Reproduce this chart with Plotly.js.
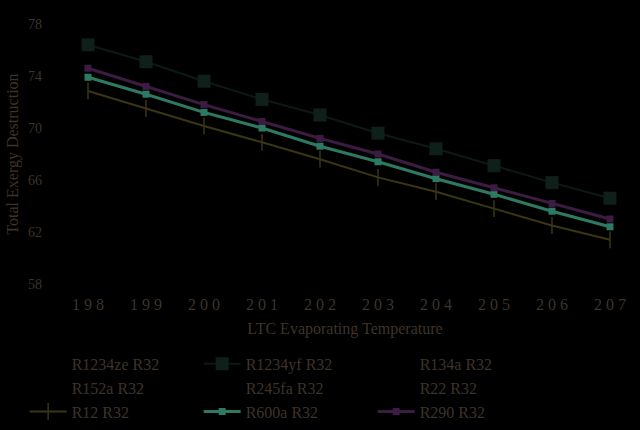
<!DOCTYPE html>
<html>
<head>
<meta charset="utf-8">
<script src="https://cdn.plot.ly/plotly-3.0.1.min.js"></script>
<style>
  html, body { margin: 0; padding: 0; background: #000; }
  #chart { width: 640px; height: 430px; }
</style>
</head>
<body>
<div id="chart"></div>
<script>
// LTC evaporating temperature (x) and total exergy destruction per pair
const temps = [198, 199, 200, 201, 202, 203, 204, 205, 206, 207]
const tempLabels = ['1 9 8', '1 9 9', '2 0 0', '2 0 1', '2 0 2', '2 0 3', '2 0 4', '2 0 5', '2 0 6', '2 0 7']

const r1234yf = [76.4, 75.1, 73.6, 72.2, 71.0, 69.6, 68.4, 67.1, 65.8, 64.6]
const r12 = [72.85, 71.5, 70.15, 68.9, 67.6, 66.2, 65.1, 63.8, 62.5, 61.4]
const r600a = [73.9, 72.6, 71.2, 70.0, 68.6, 67.4, 66.1, 64.9, 63.6, 62.4]
const r290 = [74.6, 73.2, 71.8, 70.5, 69.2, 68.0, 66.6, 65.4, 64.2, 63.0]
// not readable in the picture (drawn black on black)
const noValues = [null, null, null, null, null, null, null, null, null, null]

const yTicks = [58, 62, 66, 70, 74, 78]

const txtColor = '#3e3329'
const serif = 'Liberation Serif, Times New Roman, serif'

// series drawn in black in the original - only the legend text shows
let hidden = function(name){
  return {
    x: temps, y: noValues, name: name, type: 'scatter', mode: 'lines',
    line: {color: '#000', width: 2}
  }
}

let traces = [
  hidden('R1234ze R32'),
  {
    x: temps, y: r1234yf, name: 'R1234yf R32', type: 'scatter', mode: 'lines+markers',
    line: {color: '#0b1a16', width: 2},
    marker: {symbol: 'square', size: 13, color: '#0f201b'}
  },
  hidden('R134a R32'),
  hidden('R152a R32'),
  hidden('R245fa R32'),
  hidden('R22 R32'),
  {
    x: temps, y: r12, name: 'R12 R32', type: 'scatter', mode: 'lines+markers',
    line: {color: '#3b3612', width: 2},
    marker: {symbol: 'line-ns', size: 12, color: '#3b3612', line: {color: '#3b3612', width: 1.5}}
  },
  {
    x: temps, y: r600a, name: 'R600a R32', type: 'scatter', mode: 'lines+markers',
    line: {color: '#2c7a64', width: 3},
    marker: {symbol: 'square', size: 7, color: '#2c7a64'}
  },
  {
    x: temps, y: r290, name: 'R290 R32', type: 'scatter', mode: 'lines+markers',
    line: {color: '#3c1c42', width: 3},
    marker: {symbol: 'square', size: 7, color: '#3c1c42'}
  }
]

let layout = {
  width: 640,
  height: 430,
  paper_bgcolor: '#000',
  plot_bgcolor: '#000',
  margin: {l: 60, r: 10, t: 24, b: 146, autoexpand: false},
  font: {family: serif, color: txtColor, size: 15},
  showlegend: true,
  xaxis: {
    range: [197.517, 207.345],
    tickvals: temps,
    ticktext: tempLabels,
    showgrid: false,
    zeroline: false,
    showline: false,
    ticks: '',
    ticklabelstandoff: 9,
    tickfont: {size: 16, color: txtColor},
    title: {text: 'LTC Evaporating Temperature', font: {size: 16, color: txtColor}, standoff: 10},
    automargin: false
  },
  yaxis: {
    range: [58, 78],
    tickvals: yTicks,
    showgrid: false,
    zeroline: false,
    showline: false,
    ticks: '',
    ticklabelstandoff: 17,
    tickfont: {size: 14, color: txtColor},
    title: {text: 'Total Exergy Destruction', font: {size: 16, color: txtColor}},
    automargin: false
  },
  legend: {
    orientation: 'h',
    x: -0.062,
    xanchor: 'left',
    y: -0.242,
    yanchor: 'top',
    entrywidth: 122,
    entrywidthmode: 'pixels',
    itemwidth: 37,
    font: {size: 16, color: txtColor},
    bgcolor: 'rgba(0,0,0,0)'
  }
}

Plotly.newPlot('chart', traces, layout, {displayModeBar: false, staticPlot: true})
</script>
</body>
</html>
